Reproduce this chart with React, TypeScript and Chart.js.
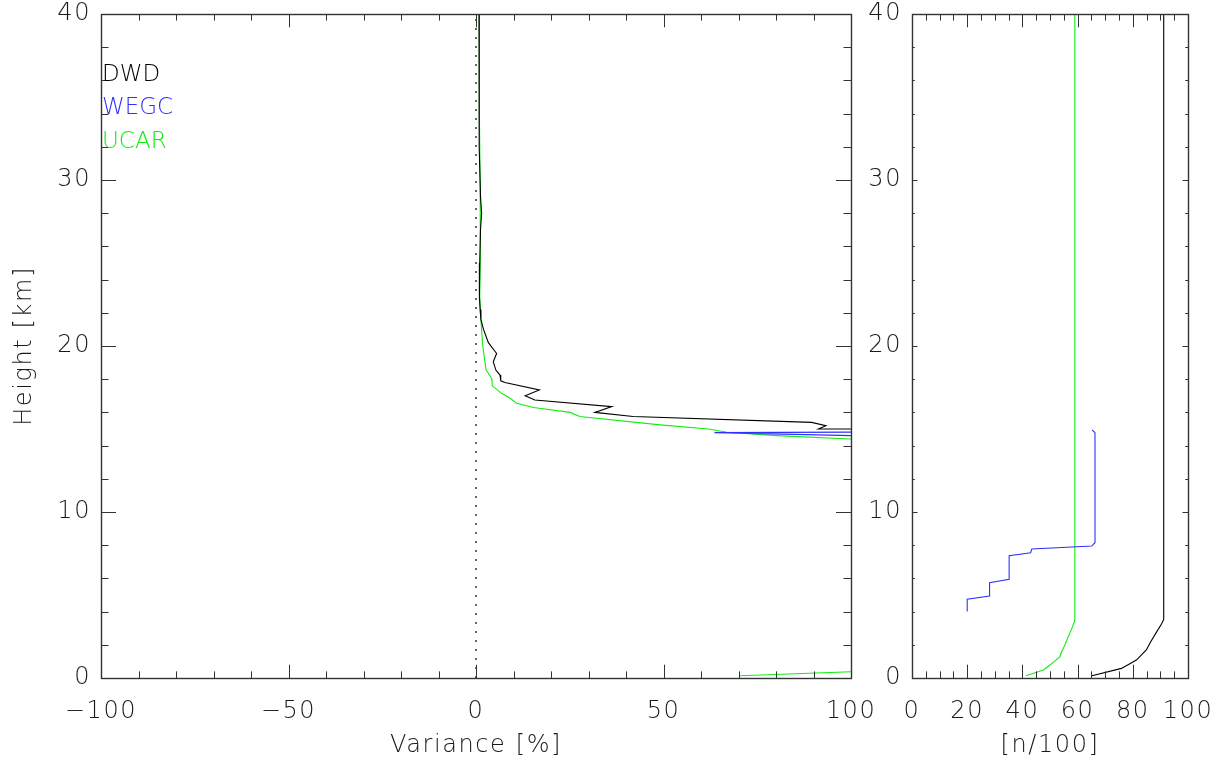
import React, { useEffect, useRef } from "react";
import { Chart, registerables } from "chart.js";

Chart.register(...registerables);

// ---------------- data ----------------
const SERIES_NAMES = ["DWD", "WEGC", "UCAR"];
const SERIES_COLORS = ["#000000", "#3030ff", "#10ee10"];

// Left panel: variance [%] against height [km]
const dwdVariance = [0.8, 0.8, 0.9, 1.2, 1.5, 1.2, 1.0, 0.9, 1.1, 1.3, 2.0, 3.3, 5.5, 4.6, 5.3, 6.4, 6.6, 7.7, 16.9, 13.1, 15.7, 36.2, 31.7, 41.9, 89.5, 93.3, 91.3, 130];
const dwdVarianceHeight = [40, 36, 32, 29, 28, 27, 25, 23, 22.2, 21.6, 21.0, 20.2, 19.55, 19.05, 18.55, 18.25, 17.9, 17.8, 17.35, 17.0, 16.75, 16.35, 16.0, 15.75, 15.4, 15.2, 15.0, 15.0];

const wegcVariance = [130, 63.6, 100, 130];
const wegcVarianceHeight = [14.84, 14.78, 14.6, 14.55];

const ucarVariance = [0.9, 0.9, 1.1, 1.2, 1.1, 1.0, 1.2, 1.3, 1.8, 2.7, 4.2, 4.35, 6.8, 9.1, 10.8, 15.3, 25.1, 27.7, 49.1, 62.0, 66.9, 80.2, 99.7, 130, 130, 100, 70.4];
const ucarVarianceHeight = [40, 34, 30, 28, 25, 23, 22, 21.6, 20.0, 18.55, 18.05, 17.6, 17.15, 16.85, 16.55, 16.3, 16.0, 15.75, 15.25, 15.0, 14.8, 14.6, 14.4, 14.2, 0.6, 0.38, 0.14];

const zeroLineVariance = [0, 0];
const zeroLineHeight = [0, 40];

// Right panel: number of profiles [n/100] against height [km]
const dwdCount = [65.2, 75.9, 81.3, 84.9, 86.5, 88.3, 90.4, 91.2, 91.2];
const dwdCountHeight = [0.14, 0.58, 1.08, 1.69, 2.19, 2.69, 3.25, 3.53, 40];

const wegcCount = [20, 20, 28.1, 28.1, 35.2, 35.2, 43.0, 43.4, 65.1, 66.3, 66.3, 65.3];
const wegcCountHeight = [4.0, 4.74, 4.94, 5.74, 5.94, 7.37, 7.55, 7.77, 7.95, 8.15, 14.78, 14.94];

const ucarCount = [41.3, 47.6, 50.0, 53.6, 54.2, 55.4, 56.6, 57.8, 59.0, 59.0];
const ucarCountHeight = [0.14, 0.48, 0.78, 1.28, 1.58, 1.99, 2.49, 2.93, 3.49, 40];

// axes
const heightAxis = { min: 0, max: 40, major: 10, minor: 2, title: "Height [km]" };
const varianceAxis = { min: -100, max: 100, major: 50, minor: 10, title: "Variance [%]" };
const countAxis = { min: 0, max: 100, major: 20, minor: 5, title: "[n/100]" };

// ---------------- styling ----------------
const FAMILY = '"DejaVu Sans", sans-serif';
const TEXT = "#1a1a1a";
const tickFont = { family: FAMILY, size: 24, weight: 200 as any, lineHeight: 1 };
const titleFont = { family: FAMILY, size: 24, weight: 200 as any, lineHeight: 1 };
const CANVAS_SHIFT = 20; // canvases start above the page to leave room for label overflow

const pts = (xs: number[], ys: number[]) => xs.map((x, i) => ({ x, y: ys[i] }));

function line(label: string, color: string, xs: number[], ys: number[], extra: any = {}) {
  return {
    label,
    data: pts(xs, ys),
    borderColor: color,
    backgroundColor: color,
    borderWidth: 1.1,
    pointRadius: 0,
    showLine: true,
    tension: 0,
    clip: 0,
    ...extra,
  };
}

const idlFrame = {
  id: "idlFrame",
  beforeUpdate(chart: any) {
    (chart.ctx as any).letterSpacing = "1.6px";
  },
  beforeDraw(chart: any) {
    (chart.ctx as any).letterSpacing = "1.6px";
  },
  afterDatasetsDraw(chart: any, _args: any, opts: any) {
    const { ctx, chartArea: a, scales } = chart;
    const x = scales.x;
    const y = scales.y;
    ctx.save();
    ctx.strokeStyle = "#333";
    ctx.lineWidth = 1;
    const seg = (x1: number, y1: number, x2: number, y2: number) => {
      ctx.beginPath();
      ctx.moveTo(x1, y1);
      ctx.lineTo(x2, y2);
      ctx.stroke();
    };
    const isMajor = (v: number, min: number, major: number) => {
      const r = (v - min) / major;
      return Math.abs(r - Math.round(r)) < 1e-6;
    };
    const xMajLen = 0.02 * a.height;
    const yMajLen = 0.02 * a.width;
    const xa = opts.xAxis;
    for (let v = xa.min; v <= xa.max + 1e-9; v += xa.minor) {
      const px = Math.round(x.getPixelForValue(v)) + 0.5;
      const len = isMajor(v, xa.min, xa.major) ? xMajLen : xMajLen / 2;
      seg(px, a.bottom, px, a.bottom - len);
      seg(px, a.top, px, a.top + len);
    }
    const ya = opts.yAxis;
    for (let v = ya.min; v <= ya.max + 1e-9; v += ya.minor) {
      const py = Math.round(y.getPixelForValue(v)) + 0.5;
      const len = isMajor(v, ya.min, ya.major) ? yMajLen : yMajLen / 2;
      seg(a.left, py, a.left + len, py);
      seg(a.right, py, a.right - len, py);
    }
    ctx.lineWidth = 1.4;
    ctx.strokeRect(Math.round(a.left) + 0.5, Math.round(a.top) + 0.5, Math.round(a.width), Math.round(a.height));

    if (opts.legend) {
      (ctx as any).letterSpacing = "0px";
      ctx.font = `200 23px ${FAMILY}`;
      ctx.textAlign = "left";
      ctx.textBaseline = "alphabetic";
      const items = chart.data.datasets.filter((d: any) => SERIES_NAMES.includes(d.label));
      items.forEach((d: any, i: number) => {
        ctx.fillStyle = d.borderColor;
        ctx.fillText(d.label, a.left + 1, a.top + 67 + i * 33.3);
      });
    }
    ctx.restore();
  },
};

function makeConfig(p: any) {
  const minus = (v: any) => String(v).replace("-", "\u2212");
  return {
    type: "scatter",
    data: { datasets: p.datasets },
    options: {
      responsive: false,
      animation: false,
      events: [],
      layout: { padding: p.padding },
      plugins: {
        legend: { display: false },
        tooltip: { enabled: false },
        idlFrame: { xAxis: p.xAxis, yAxis: heightAxis, legend: p.legend },
      },
      scales: {
        x: {
          type: "linear",
          min: p.xAxis.min,
          max: p.xAxis.max,
          grid: { display: false, drawTicks: false },
          border: { display: false },
          ticks: { stepSize: p.xAxis.major, padding: 22, color: TEXT, font: tickFont, maxRotation: 0, autoSkip: false, callback: minus },
          title: { display: true, text: p.xAxis.title, color: TEXT, font: titleFont, padding: { top: 0, bottom: 7 } },
          afterFit: (s: any) => {
            s.height = 87;
          },
        },
        y: {
          type: "linear",
          min: heightAxis.min,
          max: heightAxis.max,
          grid: { display: false, drawTicks: false },
          border: { display: false },
          ticks: { stepSize: heightAxis.major, padding: 10, color: TEXT, font: tickFont, autoSkip: false, callback: minus },
          title: { display: p.yTitle, text: heightAxis.title, color: TEXT, font: titleFont, padding: { top: 13, bottom: 0 } },
          afterFit: (s: any) => {
            s.width = p.yWidth;
          },
        },
      },
    },
    plugins: [idlFrame],
  };
}

function Panel({ config, left, width }: any) {
  const ref = useRef<HTMLCanvasElement>(null);
  const height = 765 + CANVAS_SHIFT;
  useEffect(() => {
    const chart = new Chart(ref.current as HTMLCanvasElement, config);
    return () => chart.destroy();
  }, []);
  return (
    <canvas
      ref={ref}
      width={width}
      height={height}
      style={{ position: "absolute", left, top: -CANVAS_SHIFT, width, height }}
    />
  );
}

const leftConfig = makeConfig({
  xAxis: varianceAxis,
  yTitle: true,
  yWidth: 101,
  legend: true,
  padding: { left: 0, top: 14 + CANVAS_SHIFT, right: 69, bottom: 0 },
  datasets: [
    line("", "#000000", zeroLineVariance, zeroLineHeight, { borderDash: [2, 7], borderWidth: 1.2 }),
    line(SERIES_NAMES[0], SERIES_COLORS[0], dwdVariance, dwdVarianceHeight),
    line(SERIES_NAMES[1], SERIES_COLORS[1], wegcVariance, wegcVarianceHeight),
    line(SERIES_NAMES[2], SERIES_COLORS[2], ucarVariance, ucarVarianceHeight),
  ],
});

const rightConfig = makeConfig({
  xAxis: countAxis,
  yTitle: false,
  yWidth: 62,
  legend: false,
  padding: { left: 0, top: 14 + CANVAS_SHIFT, right: 62, bottom: 0 },
  datasets: [
    line(SERIES_NAMES[0], SERIES_COLORS[0], dwdCount, dwdCountHeight),
    line(SERIES_NAMES[1], SERIES_COLORS[1], wegcCount, wegcCountHeight),
    line(SERIES_NAMES[2], SERIES_COLORS[2], ucarCount, ucarCountHeight),
  ],
});

export default function App() {
  return (
    <div style={{ position: "absolute", left: 0, top: 0, width: 1224, height: 765, background: "#fff", overflow: "hidden" }}>
      <Panel config={leftConfig} left={0} width={920} />
      <Panel config={rightConfig} left={850} width={400} />
    </div>
  );
}
